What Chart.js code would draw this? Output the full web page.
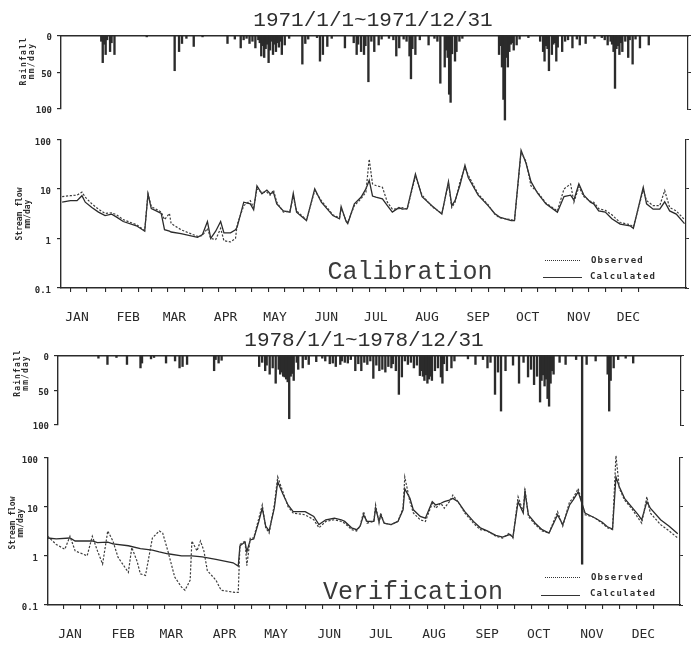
<!DOCTYPE html>
<html><head><meta charset="utf-8">
<script src="https://cdn.jsdelivr.net/npm/chart.js@4.4.0/dist/chart.umd.min.js"></script>
<style>
html,body{margin:0;padding:0;background:#fff;}
#wrap{position:relative;width:693px;height:649px;overflow:hidden;background:#fff;}
canvas{position:absolute;left:0;}
.t{position:absolute;color:#2e2e2e;white-space:nowrap;transform:translate(-50%,-50%);}
.title{font-family:"Liberation Mono";font-size:21px;}
.yl{font-family:"DejaVu Sans Mono";font-weight:bold;font-size:8px;line-height:8px;text-align:center;transform:translate(-50%,-50%) rotate(-90deg);}
.ann{font-family:"Liberation Mono";font-size:25px;color:#3a3a3a;}
.leg{position:absolute;font-family:"DejaVu Sans Mono";font-weight:bold;font-size:9px;letter-spacing:1.2px;color:#2e2e2e;transform:translateY(-50%);white-space:nowrap;}
.ln{position:absolute;height:0;}
</style></head>
<body><div id="wrap">
<canvas id="r71" width="693" height="100" style="top:25px"></canvas>
<canvas id="f71" width="693" height="202" style="top:128px"></canvas>
<canvas id="f78" width="693" height="203" style="top:446px"></canvas>
<canvas id="r78" width="693" height="230" style="top:345px"></canvas>

<div class="t title" style="left:373px;top:20px">1971/1/1~1971/12/31</div>
<div class="t title" style="left:364px;top:340px">1978/1/1~1978/12/31</div>

<div class="t yl" style="left:28px;top:61px;letter-spacing:1.3px">Rainfall<br>mm/day</div>
<div class="t yl" style="left:24px;top:214px">Stream flow<br>mm/day</div>
<div class="t yl" style="left:22px;top:373px;letter-spacing:1.1px">Rainfall<br>mm/day</div>
<div class="t yl" style="left:17px;top:523px">Stream flow<br>mm/day</div>

<div class="t ann" style="left:410px;top:272px">Calibration</div>
<div class="t ann" style="left:413px;top:592px">Verification</div>

<div class="ln" style="left:545px;top:260px;width:35px;border-top:1.6px dotted #333"></div>
<div class="leg" style="left:591px;top:260px">Observed</div>
<div class="ln" style="left:543px;top:277px;width:39px;border-top:1.3px solid #333"></div>
<div class="leg" style="left:590px;top:276px">Calculated</div>

<div class="ln" style="left:545px;top:577px;width:35px;border-top:1.6px dotted #333"></div>
<div class="leg" style="left:591px;top:577px">Observed</div>
<div class="ln" style="left:541px;top:595px;width:39px;border-top:1.3px solid #333"></div>
<div class="leg" style="left:590px;top:593px">Calculated</div>
</div>
<script>
// ---------- data (day of year, values) ----------
const months = ['JAN','FEB','MAR','APR','MAY','JUN','JUL','AUG','SEP','OCT','NOV','DEC'];
const monthMid = [15,46,74,105,135,166,196,227,258,288,319,349];
const monthStart = [1,32,60,91,121,152,182,213,244,274,305,335];
const rainTicks = [0,50,100];
const flowTicks = [0.1,1,10,100];

// 1971 rainfall (mm/day)
const rainDays71 = [
 10,12,15,18,59,62,64,72,78,95,
 104,110,114,118,120,123,126,128,132,134,
 146,148,158,160,163,175,183,186,188,191,
 195,198,210,212,219,220,223,232,240,243,
 246,247,250,251,280,282,283,284,286,287,
 290,292,310,311,314,316,319,323,330,335,
 339,354,358,359,362,364,368,371,376,382,
 9,11,13,16,40,67,100,106,108,112,
 116,117,119,121,122,124,125,127,129,130,
 131,137,150,156,166,181,184,189,193,200,
 205,208,215,217,221,226,236,238,244,245,
 248,253,255,281,285,288,289,294,300,308,
 312,313,317,318,320,325,327,333,345,350,
 352,356,357,360,361,363,366,369,373];
const rain71 = [
 37,26,22,26,48,22,11,15,2,11,
 17,11,17,28,30,37,26,22,26,13,
 39,11,35,26,15,17,26,22,26,63,
 22,13,28,17,28,59,26,13,65,43,
 80,91,35,22,26,43,87,115,43,22,
 20,13,22,35,48,26,35,22,17,13,
 11,13,22,72,26,22,30,39,17,13,
 8,12,6,10,2,4,5,6,4,8,
 6,10,14,18,12,20,8,12,10,16,
 8,4,5,3,4,10,12,14,8,5,
 4,6,5,8,18,6,4,8,20,30,
 25,8,4,14,30,12,10,5,3,8,
 14,18,12,10,16,8,6,5,4,3,
 6,8,12,18,14,10,8,6,5];

// 1971 stream flow (mm/day)
const flowDays71 = [
 6,11,15,18,20,24,28,32,36,39,
 43,51,56,58,60,63,66,68,71,72,
 78,88,91,94,96,99,102,104,108,111,
 112,116,120,122,124,127,130,132,134,136,
 140,144,146,148,154,159,163,170,174,175,
 178,179,183,187,190,192,194,196,200,203,
 206,210,212,215,220,224,230,236,240,242,
 244,247,250,252,258,264,268,271,278,280,
 284,287,290,294,299,306,310,314,316,319,
 322,326,328,331,335,339,344,350,352,358,
 360,364,368,371,374,378,383];
const observed71 = [
 7.0,7.3,7.5,8.6,6.8,5.0,3.9,3.2,3.3,3.0,
 2.4,1.9,1.45,8.0,4.4,3.9,3.4,2.4,3.2,2.0,
 1.5,1.1,1.15,1.6,1.0,0.95,1.6,0.9,0.85,1.0,
 1.9,4.6,5.8,4.2,10,8.5,8.6,7.5,9.5,5.4,
 3.4,3.6,7.0,3.6,2.4,9.2,5.8,3.0,2.6,4.0,
 2.3,2.1,4.6,6.3,8.6,40,12.6,11.7,10.8,5.4,
 3.9,4.0,4.2,3.9,18,7.5,4.4,3.2,13,4.2,
 5.4,14,27,19,7.9,4.8,3.1,2.6,2.4,2.3,
 55,36,11.5,8.6,5.2,3.6,10,12.6,5.4,11,
 7.0,5.6,5.4,4.0,3.7,3.0,2.1,1.9,1.7,9.5,
 5.8,4.6,4.6,9.3,4.2,3.6,2.4];
const calculated71 = [
 5.4,5.8,5.8,7.3,5.4,4.2,3.4,2.9,3.1,2.7,
 2.2,1.8,1.4,7.9,4.0,3.6,3.2,1.5,1.4,1.35,
 1.25,1.05,1.2,2.2,1.0,1.4,2.2,1.3,1.3,1.5,
 1.7,5.4,5.0,3.8,11.5,8.0,9.5,8.0,8.5,5.0,
 3.6,3.4,8.2,3.4,2.3,10,5.4,2.9,2.5,4.4,
 2.2,2.0,5.0,6.8,10,15,7.2,6.8,6.3,4.6,
 3.4,4.2,3.9,4.0,20,7.0,4.6,3.1,14,4.6,
 5.8,12,30,17,7.5,4.6,3.2,2.7,2.3,2.3,
 60,33,14,8.2,5.0,3.4,7.0,7.5,6.0,12.6,
 7.5,5.4,5.0,3.6,3.4,2.5,1.95,1.8,1.6,10.8,
 5.0,3.9,3.9,5.5,3.6,3.1,2.0];

// 1978 rainfall (mm/day)
const rainDays78 = [
 15,28,37,38,54,63,65,68,86,89,
 91,116,120,123,127,130,133,135,136,139,
 142,145,149,154,165,167,170,175,180,184,
 188,192,196,200,204,207,209,211,215,219,
 223,226,228,231,233,237,238,241,244,260,
 268,273,277,280,289,295,299,303,306,308,
 309,312,320,331,334,348,349,350,365,
 9,21,44,46,60,87,118,121,125,129,
 131,132,134,137,138,141,147,158,160,163,
 171,173,177,182,186,190,194,198,202,205,
 213,217,221,224,225,227,229,230,235,239,
 246,255,265,270,275,285,292,297,301,304,
 305,307,310,311,316,327,340,352,355,360];
const rain78 = [
 13,13,18,11,11,18,16,13,22,11,
 7,16,22,27,40,27,31,38,91,36,
 20,18,13,9,11,16,13,11,22,22,
 13,33,22,24,18,22,56,31,13,18,
 29,36,40,36,22,31,40,22,18,13,
 18,56,80,22,40,31,42,67,44,62,
 73,27,13,300,13,27,80,36,11,
 4,3,5,3,8,6,10,14,18,20,
 24,30,34,30,26,10,6,4,8,12,
 8,10,6,12,10,8,14,20,16,12,
 8,10,14,22,30,28,34,30,18,12,
 8,5,6,10,24,14,10,20,30,36,
 28,34,40,22,10,6,8,18,6,4];

// 1978 stream flow (mm/day)
const obsDays78 = [
 2,7,12,15,18,25,28,31,34,37,
 40,43,49,51,54,56,59,63,67,69,
 72,76,80,82,85,86,89,91,93,95,
 100,103,111,113,114,117,118,120,122,125,
 127,129,131,134,136,139,142,145,152,157,
 160,164,169,173,175,179,182,184,186,188,
 192,193,195,196,198,202,206,209,210,213,
 215,219,222,226,228,231,233,236,238,241,
 245,250,254,258,263,267,271,273,276,279,
 280,282,286,290,294,299,302,306,308,311,
 315,319,321,325,328,331,333,335,338,342,
 346,348,351,353,359,364,369];
const observed78 = [
 2.5,1.7,1.36,2.5,1.26,1.0,2.5,1.26,0.68,3.2,
 2.0,0.93,0.46,1.47,0.79,0.43,0.4,2.3,3.2,2.9,
 1.26,0.37,0.23,0.2,0.32,2.0,1.26,2.0,1.26,0.5,
 0.32,0.2,0.18,0.18,1.7,2.0,0.63,2.3,2.3,5.8,
 10.8,3.7,2.9,10.8,40,20,10,7.4,6.8,5.4,
 3.7,5.0,5.4,5.0,4.6,3.4,3.2,4.0,7.9,4.6,
 5.0,10.8,4.6,7.4,4.6,4.3,5.0,9.3,40,12.6,
 7.4,5.4,5.0,11.7,9.3,11.7,9.3,12.6,17.1,12.6,
 7.4,4.6,3.4,3.2,2.5,2.3,2.9,2.3,15.8,7.9,
 23.3,6.3,4.3,3.2,2.9,7.9,4.0,12.6,14.7,23.3,
 6.8,6.3,5.8,4.6,3.7,3.4,108,23.3,13.6,9.3,
 5.8,4.6,15.8,7.4,4.3,3.2,2.3];
const calDays78 = [
 2,7,15,18,28,31,37,40,49,56,
 63,67,72,80,86,92,100,110,113,114,
 117,118,120,122,125,127,129,131,134,136,
 139,142,145,152,157,160,164,169,173,175,
 179,182,184,186,188,192,193,195,196,198,
 202,206,209,210,213,215,219,222,226,228,
 231,233,236,238,241,245,250,254,258,263,
 267,271,273,276,279,280,282,286,290,294,
 299,302,306,308,311,315,319,321,325,328,
 331,333,335,338,342,346,348,351,353,359,
 364,369];
const calculated78 = [
 2.3,2.2,2.3,2.0,2.0,1.85,1.9,1.75,1.6,1.4,
 1.3,1.2,1.1,1.0,1.0,0.95,0.85,0.72,0.62,1.6,
 1.9,1.2,2.1,2.2,5.0,9.3,4.0,3.2,9.3,32,
 18,10.8,7.9,7.9,6.3,4.3,5.4,5.8,5.4,5.0,
 3.7,3.4,4.0,6.8,5.0,5.0,9.3,5.0,6.8,4.6,
 4.3,5.0,8.6,23,14.7,8.6,6.3,5.8,12.6,10.8,
 11.7,12.6,13.6,14.7,12.6,7.9,5.0,3.7,3.2,2.6,
 2.4,2.7,2.4,12.6,7.4,20,6.8,4.6,3.4,2.9,
 6.8,4.3,10.8,13.6,20,7.4,6.3,5.8,4.8,3.9,
 3.5,40,25,14.7,10,6.8,5.4,12.6,9.3,5.4,
 4.0,2.8];

// ---------- drawing ----------
const INK = '#2b2b2b';
const tickFont = {family:'DejaVu Sans Mono', size:9, weight:'bold'};
const base = {animation:false, responsive:false, events:[],
  plugins:{legend:{display:false}, tooltip:{enabled:false}}};
function pts(d, v){ return d.map((x,i)=>({x:x, y:v[i]})); }
function fixTicks(list){ return function(s){ s.ticks = list.map(v=>({value:v})); }; }

function rainChart(id, days, vals, xmin, xmax, p){
  return new Chart(document.getElementById(id), {
    type:'bar',
    data:{datasets:[{data:pts(days, vals), backgroundColor:INK, borderWidth:0,
      barThickness:1.7, clip:false}]},
    options:Object.assign({}, base, {
      layout:{padding:{left:0, right:p.r, top:p.t, bottom:p.b}},
      scales:{
        x:{type:'linear', min:xmin, max:xmax, display:false},
        xTop:{type:'linear', position:'top', min:xmin, max:xmax,
          afterFit(s){ s.height = 0; }, ticks:{display:false},
          grid:{display:false}, border:{display:true, color:INK, width:1.4}},
        y:{min:0, max:100, reverse:true, afterFit(s){ s.width = p.l; },
          afterBuildTicks:fixTicks(rainTicks),
          ticks:{font:tickFont, color:INK, padding:5, labelOffset:2},
          grid:{drawOnChartArea:false, tickLength:4, color:INK, lineWidth:1.2},
          border:{color:INK, width:1.4}},
        y2:{position:'right', min:0, max:100, reverse:true,
          afterFit(s){ s.width = 0; }, afterBuildTicks:fixTicks(rainTicks),
          ticks:{display:false},
          grid:{drawOnChartArea:false, tickLength:3, color:INK},
          border:{color:INK, width:1.2}}
      }})
  });
}

function flowChart(id, oD, oV, cD, cV, xmin, xmax, p){
  const minor = [];
  monthStart.forEach(m=>{ [0,10,20].forEach(k=>{ if(m+k>xmin && m+k<xmax) minor.push(m+k); }); });
  return new Chart(document.getElementById(id), {
    type:'line',
    data:{datasets:[
      {label:'Observed', data:pts(oD, oV), borderColor:'#3d3d3d', borderWidth:1.2,
        borderDash:[2.2,1.6], pointRadius:0, tension:0, clip:false},
      {label:'Calculated', data:pts(cD, cV), borderColor:INK, borderWidth:1.3,
        pointRadius:0, tension:0, clip:false}
    ]},
    options:Object.assign({}, base, {
      layout:{padding:{left:0, right:p.r, top:p.t, bottom:0}},
      scales:{
        x:{type:'linear', min:xmin, max:xmax, weight:1,
          afterFit(s){ s.height = p.b; }, afterBuildTicks:fixTicks(monthMid),
          ticks:{autoSkip:false, maxRotation:0, padding:14,
            font:{family:'DejaVu Sans Mono', size:13}, color:INK,
            callback:(v,i)=>months[i]},
          grid:{display:false}, border:{display:true, color:INK, width:1.4}},
        xt:{type:'linear', position:'bottom', min:xmin, max:xmax, weight:0,
          afterFit(s){ s.height = 0; }, afterBuildTicks:fixTicks(minor),
          ticks:{display:false},
          grid:{drawOnChartArea:false, tickLength:4, color:INK, lineWidth:1.1},
          border:{display:false}},
        y:{type:'logarithmic', min:0.1, max:100, afterFit(s){ s.width = p.l; },
          afterBuildTicks:fixTicks(flowTicks),
          ticks:{font:tickFont, color:INK, padding:6, labelOffset:3, callback:v=>String(v)},
          grid:{drawOnChartArea:false, tickLength:4, color:INK, lineWidth:1.2},
          border:{color:INK, width:1.4}},
        y2:{type:'logarithmic', position:'right', min:0.1, max:100,
          afterFit(s){ s.width = 0; }, afterBuildTicks:fixTicks(flowTicks),
          ticks:{display:false},
          grid:{drawOnChartArea:false, tickLength:3, color:INK},
          border:{color:INK, width:1.2}}
      }})
  });
}

rainChart('r71', rainDays71, rain71, 5.3, 385, {l:61, r:5, t:10, b:16});
flowChart('f71', flowDays71, observed71, flowDays71, calculated71, 5.3, 383.9, {l:61, r:7, t:9, b:42});
rainChart('r78', rainDays78, rain78, 8.0, 370.9, {l:58, r:12, t:10, b:150});
flowChart('f78', obsDays78, observed78, calDays78, calculated78, 2.2, 370.3, {l:48, r:13, t:9, b:44});
</script>
</body></html>
